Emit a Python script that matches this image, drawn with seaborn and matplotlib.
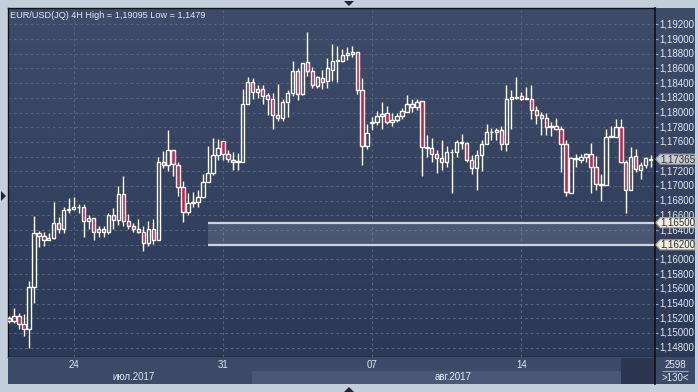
import numpy as np
import pandas as pd
import matplotlib
matplotlib.use("Agg")
import matplotlib.pyplot as plt
import seaborn as sns
from matplotlib.colors import LinearSegmentedColormap
from matplotlib.patches import Polygon, Rectangle

# --- colours ---
FRAME = "#c4cfdc"
PLOT_TOP = "#3f4c69"
PLOT_BOT = "#2b3856"
STRIP_BG = "#3d4a67"
GRID = "#56637f"
TEXT = "#e2e8f1"
BEAR = "#e3173e"
BULL = "#ffffff"

# --- data: EUR/USD 4H candles ---
opens = [1.1521, 1.1516, 1.1523, 1.1512, 1.1505, 1.1562, 1.1636, 1.1632, 1.1627, 1.1629,
         1.1650, 1.1641, 1.1667, 1.1669, 1.1671, 1.1671, 1.1653, 1.1656, 1.1638, 1.1642,
         1.1638, 1.1661, 1.1654, 1.1689, 1.1653, 1.1646, 1.1642, 1.1638, 1.1623, 1.1641,
         1.1627, 1.1733, 1.1729, 1.1749, 1.1728, 1.1698, 1.1665, 1.1677, 1.1678, 1.1685,
         1.1706, 1.1717, 1.1742, 1.1761, 1.1743, 1.1736, 1.1732, 1.1733, 1.1811, 1.1842,
         1.1828, 1.1832, 1.1824, 1.1818, 1.1796, 1.1792, 1.1814, 1.1826, 1.1856, 1.1825,
         1.1869, 1.1857, 1.1836, 1.1847, 1.1843, 1.1858, 1.1870, 1.1870, 1.1878, 1.1880,
         1.1882, 1.1830, 1.1754, 1.1786, 1.1787, 1.1795, 1.1799, 1.1787, 1.1790, 1.1795,
         1.1801, 1.1811, 1.1808, 1.1815, 1.1752, 1.1752, 1.1743, 1.1738, 1.1732, 1.1746,
         1.1746, 1.1759, 1.1758, 1.1736, 1.1724, 1.1742, 1.1757, 1.1773, 1.1773, 1.1776,
         1.1757, 1.1818, 1.1820, 1.1823, 1.1820, 1.1818, 1.1804, 1.1796, 1.1793, 1.1780,
         1.1781, 1.1777, 1.1757, 1.1691, 1.1737, 1.1736, 1.1739, 1.1743, 1.1726, 1.1702,
         1.1702, 1.1766, 1.1767, 1.1780, 1.1733, 1.1694, 1.1741, 1.1722, 1.1729, 1.17355]
highs = [1.1523, 1.1534, 1.1527, 1.1526, 1.1571, 1.1659, 1.1639, 1.1637, 1.1636, 1.1678,
         1.1658, 1.1671, 1.1683, 1.1685, 1.1676, 1.1675, 1.1661, 1.1656, 1.1646, 1.1646,
         1.1663, 1.1670, 1.1700, 1.1714, 1.1662, 1.1649, 1.1655, 1.1645, 1.1652, 1.1655,
         1.1739, 1.1747, 1.1776, 1.1749, 1.1733, 1.1707, 1.1690, 1.1692, 1.1695, 1.1716,
         1.1755, 1.1765, 1.1764, 1.1761, 1.1749, 1.1746, 1.1745, 1.1832, 1.1848, 1.1847,
         1.1838, 1.1837, 1.1827, 1.1827, 1.1839, 1.1818, 1.1831, 1.1870, 1.1860, 1.1868,
         1.19095, 1.1862, 1.1850, 1.1858, 1.1874, 1.1893, 1.1890, 1.1886, 1.1889, 1.1891,
         1.1882, 1.1847, 1.1784, 1.1794, 1.1802, 1.1814, 1.1809, 1.1799, 1.1799, 1.1806,
         1.1824, 1.1818, 1.1818, 1.1815, 1.1769, 1.1765, 1.1749, 1.1763, 1.1755, 1.1751,
         1.1763, 1.1771, 1.1760, 1.1742, 1.1749, 1.1763, 1.1785, 1.1779, 1.1779, 1.1781,
         1.1837, 1.1831, 1.1848, 1.1828, 1.1835, 1.1838, 1.1809, 1.1801, 1.1799, 1.1787,
         1.1792, 1.1781, 1.1763, 1.1739, 1.1743, 1.1744, 1.1745, 1.1758, 1.1741, 1.1716,
         1.1778, 1.1781, 1.1791, 1.1791, 1.1735, 1.1753, 1.1751, 1.1732, 1.1739, 1.1742]
lows = [1.1514, 1.1513, 1.1505, 1.1496, 1.1479, 1.1541, 1.1617, 1.1619, 1.1626, 1.1628,
        1.1636, 1.1636, 1.1663, 1.1668, 1.1663, 1.1630, 1.1642, 1.1626, 1.1630, 1.1630,
        1.1635, 1.1641, 1.1647, 1.1646, 1.1641, 1.1638, 1.1636, 1.1612, 1.1619, 1.1621,
        1.1627, 1.1725, 1.1720, 1.1713, 1.1687, 1.1651, 1.1660, 1.1672, 1.1671, 1.1684,
        1.1705, 1.1715, 1.1736, 1.1735, 1.1732, 1.1722, 1.1722, 1.1732, 1.1811, 1.1819,
        1.1820, 1.1811, 1.1796, 1.1777, 1.1788, 1.1788, 1.1794, 1.1822, 1.1817, 1.1824,
        1.1849, 1.1833, 1.1834, 1.1832, 1.1833, 1.1843, 1.1842, 1.1869, 1.1872, 1.1875,
        1.1825, 1.1728, 1.1750, 1.1776, 1.1783, 1.1778, 1.1785, 1.1782, 1.1787, 1.1791,
        1.1801, 1.1801, 1.1803, 1.1714, 1.1740, 1.1732, 1.1718, 1.1722, 1.1726, 1.1690,
        1.1739, 1.1751, 1.1732, 1.1716, 1.1695, 1.1720, 1.1757, 1.1762, 1.1762, 1.1749,
        1.1748, 1.1777, 1.1819, 1.1817, 1.1818, 1.1791, 1.1785, 1.1769, 1.1769, 1.1768,
        1.1776, 1.1719, 1.1686, 1.1690, 1.1726, 1.1731, 1.1733, 1.1691, 1.1695, 1.1680,
        1.1702, 1.1766, 1.1767, 1.1731, 1.1663, 1.1694, 1.1719, 1.1709, 1.1724, 1.1726]
closes = [1.1516, 1.1523, 1.1512, 1.1505, 1.1562, 1.1636, 1.1632, 1.1627, 1.1629, 1.1650,
          1.1641, 1.1667, 1.1669, 1.1672, 1.1672, 1.1653, 1.1656, 1.1638, 1.1642, 1.1638,
          1.1661, 1.1654, 1.1689, 1.1653, 1.1646, 1.1642, 1.1638, 1.1623, 1.1641, 1.1627,
          1.1733, 1.1729, 1.1749, 1.1730, 1.1698, 1.1665, 1.1677, 1.1678, 1.1685, 1.1706,
          1.1717, 1.1742, 1.1752, 1.1744, 1.1737, 1.1732, 1.1734, 1.1811, 1.1842, 1.1828,
          1.1832, 1.1822, 1.1818, 1.1796, 1.1792, 1.1814, 1.1826, 1.1856, 1.1825, 1.1868,
          1.1857, 1.1837, 1.1848, 1.1842, 1.1860, 1.1870, 1.1871, 1.1878, 1.1881, 1.1882,
          1.1830, 1.1754, 1.1772, 1.1787, 1.1795, 1.1798, 1.1787, 1.1790, 1.1795, 1.1802,
          1.1811, 1.1808, 1.1814, 1.1753, 1.1753, 1.1743, 1.1738, 1.1732, 1.1746, 1.1746,
          1.1760, 1.1760, 1.1736, 1.1724, 1.1742, 1.1757, 1.1774, 1.1774, 1.1776, 1.1757,
          1.1818, 1.1821, 1.1821, 1.1819, 1.1819, 1.1804, 1.1796, 1.1793, 1.1780, 1.1781,
          1.1777, 1.1757, 1.1692, 1.1738, 1.1738, 1.1739, 1.1743, 1.1726, 1.1703, 1.1703,
          1.1767, 1.1768, 1.1780, 1.1733, 1.1695, 1.1740, 1.1723, 1.1729, 1.1738, 1.17365]

week_starts = [13, 43, 73, 103]          # first 4H bar of each week
week_labels = ["24", "31", "07", "14"]
month_labels = ["июл.2017", "авг.2017"]
price_levels = np.round(np.arange(1.148, 1.1921, 0.002), 3)
zone_low, zone_high = 1.162, 1.165
zone_start = 40
last_price = 1.17365

df = pd.DataFrame({"open": opens, "high": highs, "low": lows, "close": closes})
df["idx"] = np.arange(len(df))
df["bear"] = df["close"] < df["open"]

sns.set_theme(style="dark")
plt.rcParams["font.family"] = ["Liberation Sans", "DejaVu Sans"]
plt.rcParams["font.size"] = 7

W, H = 698, 392
XLIM = (-0.2, 129.87)
YLIM = (1.14673, 1.19422)

fig = plt.figure(figsize=(W / 100, H / 100), dpi=100, facecolor=FRAME)
ax = fig.add_axes([8 / W, 35 / H, 647 / W, 349 / H])
ax_r = fig.add_axes([655 / W, 35 / H, 40 / W, 349 / H])
ax_b = fig.add_axes([8 / W, 8 / H, 647 / W, 27 / H])
ax_c = fig.add_axes([655 / W, 8 / H, 40 / W, 27 / H])

bg_cmap = LinearSegmentedColormap.from_list("bg", [PLOT_TOP, PLOT_BOT])
grad = np.linspace(0, 1, 256).reshape(-1, 1)

# --- main candle panel ---
ax.imshow(grad, cmap=bg_cmap, extent=[XLIM[0], XLIM[1], YLIM[0], YLIM[1]],
          aspect="auto", origin="upper", zorder=0)
for lv in price_levels:
    ax.axhline(lv, color=GRID, lw=0.8, ls=(0, (2.5, 2.5)), zorder=1)
for ws in week_starts:
    ax.axvline(ws, color=GRID, lw=0.8, ls=(0, (2.5, 2.5)), zorder=1)

# support zone
ax.fill_between([zone_start, XLIM[1]], zone_low, zone_high, color="#a9b1c4", alpha=0.22,
                lw=0, zorder=2)
ax.hlines([zone_low, zone_high], zone_start, XLIM[1], color="#cfd3db", lw=1.6, zorder=2)

# candles
body_lo = df[["open", "close"]].min(axis=1)
body_hi = df[["open", "close"]].max(axis=1)
height = (body_hi - body_lo).clip(lower=0.00004)
ax.vlines(df["idx"], body_hi, df["high"], color=BULL, lw=1.0, zorder=3)
ax.vlines(df["idx"], df["low"], body_lo, color=BULL, lw=1.0, zorder=3)
ax.bar(df["idx"], height, bottom=body_lo, width=0.68,
       color=np.where(df["bear"], BEAR, "none"), edgecolor=BULL, linewidth=1.0, zorder=4)

ax.set_xlim(*XLIM)
ax.set_ylim(*YLIM)
ax.set_xticks([])
ax.set_yticks([])
ax.grid(False)
for s in ax.spines.values():
    s.set_color("#10141c")
    s.set_linewidth(1.0)

ax.text(0.003, 0.978, "EUR/USD(JQ) 4H High = 1,19095 Low = 1,1479", transform=ax.transAxes,
        ha="left", va="center", color=TEXT, fontsize=6.6)

# --- right price scale ---
ax_r.imshow(grad, cmap=bg_cmap, extent=[0, 1, YLIM[0], YLIM[1]], aspect="auto",
            origin="upper", zorder=0)
ax_r.set_xlim(0, 1)
ax_r.set_ylim(*YLIM)
for lv in price_levels:
    ax_r.hlines(lv, 0, 0.07, color="#8fb2dc", lw=0.8, zorder=1)
    if abs(lv - last_price) < 0.001:
        continue  # fully covered by the last-price tag
    ax_r.text(0.55, lv, f"{lv:.5f}".replace(".", ","), ha="center", va="center",
              color=TEXT, fontsize=7, zorder=2)


def price_tag(axis, y, face, edge):
    hh = 0.00068
    pts = [(0.02, y), (0.13, y + hh), (0.99, y + hh), (0.99, y - hh), (0.13, y - hh)]
    axis.add_patch(Polygon(pts, closed=True, fc=face, ec=edge, lw=0.8, zorder=5))
    axis.text(0.57, y, f"{y:.5f}".replace(".", ","), ha="center", va="center",
              color="#2a2f3a", fontsize=7, zorder=6)


price_tag(ax_r, last_price, "#c8cacc", "#9a9ea6")
price_tag(ax_r, zone_high, "#f3f0dc", "#a8a898")
price_tag(ax_r, zone_low, "#f3f0dc", "#a8a898")
ax_r.set_xticks([])
ax_r.set_yticks([])
ax_r.grid(False)
for s in ax_r.spines.values():
    s.set_visible(False)
ax_r.spines["left"].set_visible(True)
ax_r.spines["left"].set_color("#10141c")

# --- bottom date strip ---
ax_b.set_facecolor(STRIP_BG)
ax_b.set_xlim(*XLIM)
ax_b.set_ylim(0, 1)
ax_b.add_patch(Rectangle((48.85, 0), 123.0 - 48.85, 0.48, fc="#4a5776", lw=0))
ax_b.add_patch(Rectangle((123.0, 0), XLIM[1] - 123.0, 0.97, fc="#2c3650", lw=0))
for ws, lab in zip(week_starts, week_labels):
    ax_b.text(ws, 0.70, lab, ha="center", va="center", color=TEXT, fontsize=7)
ax_b.text(25, 0.26, month_labels[0], ha="center", va="center", color=TEXT, fontsize=7)
ax_b.text(89.3, 0.26, month_labels[1], ha="center", va="center", color=TEXT, fontsize=7)
ax_b.set_xticks([])
ax_b.set_yticks([])
ax_b.grid(False)
for s in ax_b.spines.values():
    s.set_visible(False)

# --- corner box ---
ax_c.set_facecolor(STRIP_BG)
ax_c.set_xlim(0, 1)
ax_c.set_ylim(0, 1)
ax_c.text(0.5, 0.70, "2598", ha="center", va="center", color=TEXT, fontsize=7)
ax_c.hlines(0.47, 0.18, 0.82, color="#9aa6ba", lw=0.8)
ax_c.text(0.5, 0.22, ">130<", ha="center", va="center", color=TEXT, fontsize=7)
ax_c.set_xticks([])
ax_c.set_yticks([])
ax_c.grid(False)
for s in ax_c.spines.values():
    s.set_visible(False)
ax_c.spines["left"].set_visible(True)
ax_c.spines["left"].set_color("#10141c")

# --- little frame arrows ---
def fig_tri(pts):
    fig.add_artist(Polygon([(x / W, 1 - y / H) for x, y in pts], closed=True,
                           fc="#1d2433", ec="none", transform=fig.transFigure))


fig_tri([(344, 1), (354, 1), (349, 6)])
fig_tri([(344, 392), (354, 392), (349, 387)])
fig_tri([(1, 191), (1, 201), (6, 196)])

fig.savefig("out.png", dpi=100, facecolor=FRAME)
